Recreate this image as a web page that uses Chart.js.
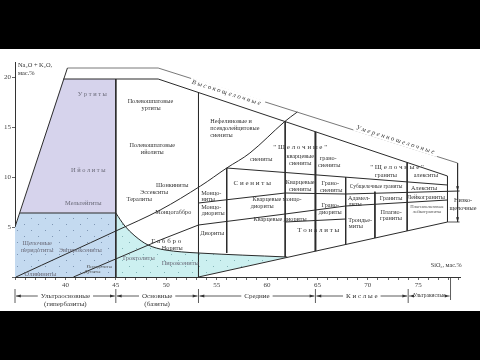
<!DOCTYPE html>
<html>
<head>
<meta charset="utf-8">
<script src="https://cdn.jsdelivr.net/npm/chart.js@4/dist/chart.umd.min.js"></script>
<style>
  html, body { margin: 0; padding: 0; background: #000; }
  #wrap { width: 480px; height: 360px; }
</style>
</head>
<body>
<div id="wrap"><canvas id="tas" width="480" height="360"></canvas></div>
<script>
// SiO2, wt.% (x) against Na2O + K2O, wt.% (y)

// shaded fields
const purpleField = [[39.8, 19.8], [45, 19.8], [45, 6.4], [35.5, 6.4]];
const blueField = [[35.5, 6.4], [45, 6.4], [45, 0], [35, 0], [35, 5.0]];
const cyanField = [[45, 6.4], [45.9, 5.1], [46.9, 4.1], [48.2, 3.2], [49.9, 2.7], [53.2, 2.4], [62.0, 2.0], [53.2, 0], [45, 0]];

// field borders
const outerLine = [[40.2, 20.9], [49.2, 20.9], [78.9, 11.4]];
const topBorder = [[39.8, 19.8], [49.2, 19.8], [77.9, 10.1]];
const leftBorder = [[40.2, 20.9], [35, 5.0]];
const ultraTop = [[35.5, 6.4], [45, 6.4]];
const line45 = [[45, 19.8], [45, 0]];
const alkaliCurve = [[35.1, 0], [45, 4.6], [49.4, 6.7], [53.4, 9.1], [56.0, 10.9], [58.3, 12.4], [61.7, 15.5], [63.0, 16.5]];
const cyanTop = [[45, 6.4], [45.9, 5.1], [46.9, 4.1], [48.2, 3.2], [49.9, 2.7], [53.2, 2.4], [62.0, 2.0]];
const gabbroLine = [[40.8, 0], [49.4, 3.7], [53.2, 5.2], [61.8, 6.3], [67.8, 7.1], [77.9, 7.7]];
const monzoLine = [[53.2, 7.4], [61.8, 8.4], [67.8, 8.3], [79.1, 8.6]];
const syeniteLine = [[56.0, 10.9], [77.9, 9.2]];
const tonaliteLine = [[61.8, 5.5], [67.8, 5.8]];
const acidBase = [[53.2, 0], [77.9, 5.5]];
const line53 = [[53.2, 18.45], [53.2, 0]];
const line56 = [[56.0, 10.9], [56.0, 2.4]];
const line62 = [[61.8, 15.54], [61.8, 2.0]];
const line65 = [[64.8, 14.53], [64.8, 2.58]];
const line68 = [[67.8, 9.98], [67.8, 3.25]];
const line71 = [[70.7, 8.53], [70.7, 3.9]];
const line74 = [[73.9, 11.45], [73.9, 4.61]];
const line78 = [[77.9, 10.1], [77.9, 5.5]];
const rightBracket = [[78.9, 11.4], [78.9, 5.5]];
const lowBracketEnd = [[77.9, 5.5], [79.1, 5.5]];

// rock names: [text, SiO2, Na2O+K2O, kind]
const fieldLabels = [
  ['У р т и т ы', 42.67, 18.3, 'shade'],
  ['И й о л и т ы', 42.27, 10.7, 'shade'],
  ['Мельтейгиты', 41.78, 7.4, 'shade'],
  ['Щелочные', 37.2, 3.4, 'shade'],
  ['перидотиты', 37.2, 2.7, 'shade'],
  ['Эвпироксениты', 41.48, 2.7, 'shade'],
  ['Оливиниты', 37.52, 0.3, 'shade'],
  ['Перидотиты', 43.36, 1.0, 'tiny'],
  ['Дуниты', 42.67, 0.5, 'tiny'],
  ['Троктолиты', 47.24, 1.9, 'shade'],
  ['Пироксениты', 51.39, 1.4, 'shade'],
  ['Г а б б р о', 50.0, 3.6, 'big'],
  ['Нориты', 50.6, 2.9, 'plain'],
  ['Монцогаббро', 50.7, 6.5, 'plain'],
  ['Шонкиниты', 50.6, 9.2, 'plain'],
  ['Эссекситы', 48.8, 8.5, 'plain'],
  ['Тералиты', 47.33, 7.8, 'plain'],
  ['Полевошпатовые', 48.43, 17.6, 'plain'],
  ['уртиты', 48.5, 16.9, 'plain'],
  ['Полевошпатовые', 48.62, 13.2, 'plain'],
  ['ийолиты', 48.62, 12.5, 'plain'],
  ['Нефелиновые и', 54.37, 15.6, 'left'],
  ['псевдолейцитовые', 54.37, 14.9, 'left'],
  ['сиениты', 54.37, 14.2, 'left'],
  ['" Щ е л о ч н ы е "', 63.29, 13.0, 'big'],
  ['сиениты', 59.42, 11.8, 'plain'],
  ['кварцевые', 63.29, 12.1, 'plain'],
  ['сиениты', 63.29, 11.4, 'plain'],
  ['грано-', 66.07, 11.9, 'plain'],
  ['сиениты', 66.17, 11.2, 'plain'],
  ['С и е н и т ы', 58.53, 9.4, 'big'],
  ['Кварцевые', 63.29, 9.5, 'plain'],
  ['сиениты', 63.29, 8.8, 'plain'],
  ['Грано-', 66.27, 9.4, 'plain'],
  ['сиениты', 66.37, 8.7, 'plain'],
  ['Монцо-', 54.47, 8.4, 'plain'],
  ['ниты', 54.17, 7.8, 'plain'],
  ['Монцо-', 54.47, 7.0, 'plain'],
  ['диориты', 54.66, 6.4, 'plain'],
  ['Кварцевые монцо-', 61.0, 7.8, 'plain'],
  ['диориты', 59.52, 7.1, 'plain'],
  ['Кварцевые диориты', 61.3, 5.8, 'plain'],
  ['Т о н а л и т ы', 65.08, 4.7, 'big'],
  ['Диориты', 54.56, 4.4, 'plain'],
  ['Грано-', 66.27, 7.2, 'plain'],
  ['диориты', 66.27, 6.5, 'plain'],
  ['Адамел-', 69.13, 7.9, 'plain'],
  ['литы', 68.74, 7.3, 'plain'],
  ['Трондье-', 69.23, 5.7, 'plain'],
  ['миты', 68.8, 5.1, 'plain'],
  ['Граниты', 72.3, 7.9, 'plain'],
  ['Плагио-', 72.3, 6.5, 'plain'],
  ['граниты', 72.3, 5.9, 'plain'],
  ['Субщелочные граниты', 70.82, 9.0, 'small'],
  ['Алекситы', 75.58, 8.9, 'plain'],
  ['Лейкограниты', 75.77, 8.0, 'plain'],
  ['Плагиоклазовые', 75.87, 7.0, 'tiny'],
  ['лейкограниты', 75.87, 6.5, 'tiny'],
  ['" Щ е л о ч н ы е "', 72.9, 11.0, 'big'],
  ['граниты', 71.8, 10.2, 'plain'],
  ['алекситы', 75.77, 10.2, 'plain'],
  ['Низко-', 79.44, 7.7, 'plain'],
  ['щелочные', 79.44, 6.9, 'plain'],
  ['SiO₂, мас.%', 77.77, 1.2, 'plain']
];

// alkalinity captions laid on the outer line: [text, SiO2, Na2O+K2O]
const slopeLabels = [['Высокощелочные', 56.05, 18.4], ['Умеренношелочные', 72.8, 13.7]];

// silica groups under the axis
const groupNames = ['Ультраосновные', 'Основные', 'Средние', 'К и с л ы е', 'Ультракислые'];
const groupNotes = ['(гипербазиты)', '(базиты)', '', '', ''];
const groupEdges = [35, 45, 53.2, 64.8, 74, 78.2];

const SERIF = '"Liberation Serif", "DejaVu Serif", serif';
const styles = {
  plain: { font: '6.2px ' + SERIF, color: '#333' },
  left: { font: '6.2px ' + SERIF, color: '#333', align: 'left' },
  big: { font: '7px ' + SERIF, color: '#333' },
  shade: { font: '6.4px ' + SERIF, color: '#6a6a78' },
  small: { font: '5.4px ' + SERIF, color: '#333' },
  tiny: { font: '4.8px ' + SERIF, color: '#555' }
};

// dotted fill like the printed screen tone
function speckle(base, dot) {
  const c = document.createElement('canvas');
  c.width = 14; c.height = 12;
  const g = c.getContext('2d');
  g.fillStyle = base;
  g.fillRect(0, 0, 14, 12);
  g.fillStyle = dot;
  g.fillRect(3, 2, 1, 1);
  g.fillRect(10, 8, 1, 1);
  return g.createPattern(c, 'repeat');
}

const toXY = pts => pts.map(p => ({ x: p[0], y: p[1] }));

function field(pts, color) {
  const d = toXY(pts);
  d.push(d[0]);
  return {
    data: d, showLine: true, fill: 'shape', backgroundColor: color,
    borderWidth: 0, pointRadius: 0, order: 10
  };
}

function border(pts, opts) {
  return Object.assign({
    data: toXY(pts), showLine: true, fill: false, borderColor: '#2b2b2b',
    borderWidth: 1, pointRadius: 0, tension: 0, order: 1
  }, opts || {});
}

function arrow(ctx, x, y, dir) {
  const s = 3;
  ctx.beginPath();
  if (dir === 'left') { ctx.moveTo(x, y); ctx.lineTo(x + s * 1.6, y - s / 2); ctx.lineTo(x + s * 1.6, y + s / 2); }
  if (dir === 'right') { ctx.moveTo(x, y); ctx.lineTo(x - s * 1.6, y - s / 2); ctx.lineTo(x - s * 1.6, y + s / 2); }
  if (dir === 'down') { ctx.moveTo(x, y); ctx.lineTo(x - s / 2, y - s * 1.6); ctx.lineTo(x + s / 2, y - s * 1.6); }
  if (dir === 'up') { ctx.moveTo(x, y); ctx.lineTo(x - s / 2, y + s * 1.6); ctx.lineTo(x + s / 2, y + s * 1.6); }
  ctx.closePath();
  ctx.fill();
}

const paperPlugin = {
  id: 'paper',
  beforeDraw(chart) {
    const ctx = chart.ctx;
    ctx.save();
    ctx.fillStyle = '#000';
    ctx.fillRect(0, 0, chart.width, chart.height);
    ctx.fillStyle = '#fff';
    ctx.fillRect(0, 49, chart.width, 262);
    ctx.restore();
  },
  afterDraw(chart) {
    const ctx = chart.ctx;
    const xs = chart.scales.x, ys = chart.scales.y;
    const px = v => xs.getPixelForValue(v), py = v => ys.getPixelForValue(v);
    ctx.save();
    ctx.textBaseline = 'middle';

    // rock names
    fieldLabels.forEach(([t, sx, sy, kind]) => {
      const st = styles[kind];
      ctx.font = st.font;
      ctx.fillStyle = st.color;
      ctx.textAlign = st.align || 'center';
      ctx.fillText(t, px(sx), py(sy));
    });

    // axis title
    ctx.font = '6.4px ' + SERIF;
    ctx.fillStyle = '#333';
    ctx.textAlign = 'left';
    ctx.fillText('Na₂O + K₂O,', px(35) + 3, py(21.2));
    ctx.fillText('мас.%', px(35) + 3, py(20.4));

    // captions along the outer line
    const a = Math.atan2(py(outerLine[2][1]) - py(outerLine[1][1]), px(outerLine[2][0]) - px(outerLine[1][0]));
    slopeLabels.forEach(([t, sx, sy]) => {
      ctx.save();
      ctx.translate(px(sx), py(sy));
      ctx.rotate(a);
      ctx.font = 'italic 6.6px ' + SERIF;
      ctx.letterSpacing = '1.8px';
      const w = ctx.measureText(t).width;
      ctx.fillStyle = '#fff';
      ctx.fillRect(-w / 2 - 2, -4, w + 4, 8);
      ctx.fillStyle = '#333';
      ctx.textAlign = 'center';
      ctx.fillText(t, 0, 0);
      ctx.restore();
    });

    // right bracket arrows
    ctx.fillStyle = '#2b2b2b';
    arrow(ctx, px(78.9), py(8.6), 'down');
    arrow(ctx, px(78.9), py(5.5), 'down');

    // silica groups
    const yLine = xs.top + 19;
    ctx.strokeStyle = '#333';
    ctx.lineWidth = 0.8;
    groupEdges.forEach((e, i) => {
      if (i === groupEdges.length - 1) return;
      ctx.beginPath();
      ctx.moveTo(px(e), yLine - 7);
      ctx.lineTo(px(e), yLine + 7);
      ctx.stroke();
    });
    ctx.beginPath();
    ctx.moveTo(px(78.2), xs.top + 1);
    ctx.lineTo(px(78.2), yLine + 4);
    ctx.stroke();
    groupNames.forEach((name, i) => {
      const x0 = px(groupEdges[i]), x1 = px(groupEdges[i + 1]);
      const small = i === 4;
      ctx.font = (small ? '5.4px ' : '7px ') + SERIF;
      const w = ctx.measureText(name).width;
      const cx = (x0 + x1) / 2;
      ctx.beginPath();
      ctx.moveTo(x0 + 1, yLine); ctx.lineTo(cx - w / 2 - 3, yLine);
      ctx.moveTo(cx + w / 2 + 3, yLine); ctx.lineTo(x1 - 1, yLine);
      ctx.stroke();
      ctx.fillStyle = '#333';
      arrow(ctx, x0 + 1, yLine, 'left');
      arrow(ctx, x1 - 1, yLine, 'right');
      ctx.textAlign = 'center';
      ctx.fillText(name, cx, yLine);
      if (groupNotes[i]) ctx.fillText(groupNotes[i], cx, yLine + 8);
    });
    ctx.restore();
  }
};

const tickFont = { family: 'Liberation Serif', size: 7 };

new Chart(document.getElementById('tas'), {
  type: 'scatter',
  data: {
    datasets: [
      field(purpleField, 'rgb(214, 211, 236)'),
      field(blueField, speckle('rgb(196, 218, 240)', 'rgba(70, 95, 130, 0.55)')),
      field(cyanField, speckle('rgb(204, 240, 240)', 'rgba(60, 120, 125, 0.5)')),
      border(outerLine, { borderColor: '#555', borderWidth: 0.8 }),
      border(topBorder),
      border(leftBorder),
      border(ultraTop),
      border(line45),
      border(alkaliCurve, { tension: 0.35 }),
      border(cyanTop, { tension: 0.35 }),
      border(gabbroLine),
      border(monzoLine),
      border(syeniteLine),
      border(tonaliteLine),
      border(acidBase),
      border(line53),
      border(line56),
      border(line62),
      border(line65, { borderWidth: 2 }),
      border(line68),
      border(line71),
      border(line74),
      border(line78),
      border(rightBracket, { borderWidth: 0.8 }),
      border(lowBracketEnd, { borderWidth: 0.8 })
    ]
  },
  options: {
    responsive: false,
    animation: false,
    layout: { padding: { top: 62, right: 20, left: 0, bottom: 0 } },
    plugins: { legend: { display: false }, tooltip: { enabled: false } },
    scales: {
      x: {
        type: 'linear', min: 35, max: 79.14,
        ticks: {
          stepSize: 1, includeBounds: false, autoSkip: false, maxRotation: 0, padding: 1,
          font: tickFont, color: '#444',
          callback: v => {
            const r = Math.round(v);
            return (Math.abs(v - r) < 1e-6 && r % 5 === 0 && r >= 40 && r <= 75) ? String(r) : '';
          }
        },
        grid: { drawOnChartArea: false, drawTicks: true, tickLength: 3, color: '#666' },
        border: { display: true, color: '#333', width: 1 },
        afterFit: s => { s.height = 83; }
      },
      y: {
        min: 0, max: 21.5,
        ticks: {
          stepSize: 5, includeBounds: false, padding: 1, font: tickFont, color: '#444',
          callback: v => (v === 0 ? '' : String(v))
        },
        grid: { drawOnChartArea: false, drawTicks: true, tickLength: 3, color: '#666' },
        border: { display: true, color: '#333', width: 1 },
        afterFit: s => { s.width = 15; }
      }
    }
  },
  plugins: [paperPlugin]
});
</script>
</body>
</html>
